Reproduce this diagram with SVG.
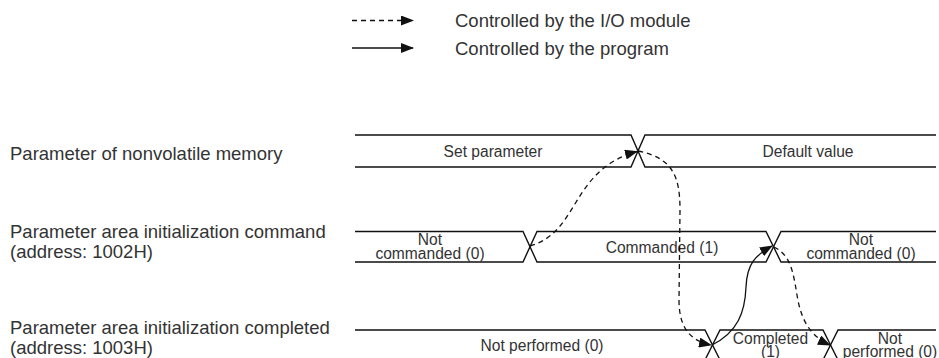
<svg xmlns="http://www.w3.org/2000/svg" width="939" height="358" viewBox="0 0 939 358">
<style>
.big{font-family:"Liberation Sans",Arial,sans-serif;font-size:18.5px;fill:#333}
.sm{font-family:"Liberation Sans",Arial,sans-serif;font-size:15.6px;fill:#333;text-anchor:middle}
.sig{fill:none;stroke:#111;stroke-width:1.4}
.dash{fill:none;stroke:#111;stroke-width:1.3;stroke-dasharray:5,4}
.solid{fill:none;stroke:#111;stroke-width:1.3}
</style>
<defs>
<marker id="ah" markerWidth="13" markerHeight="10" refX="12" refY="5" orient="auto" markerUnits="userSpaceOnUse">
<path d="M0,0 L13,5 L0,10 Z" fill="#111"/>
</marker>
</defs>
<rect width="939" height="358" fill="#fff"/>
<g id="legend">
<line x1="352" y1="20.5" x2="413" y2="20.5" class="dash" marker-end="url(#ah)"/>
<line x1="352" y1="48" x2="413" y2="48" class="solid" marker-end="url(#ah)"/>
<text x="455" y="27" class="big">Controlled by the I/O module</text>
<text x="455" y="54.5" class="big">Controlled by the program</text>
</g>
<g id="label-param">
<text x="10" y="160" class="big">Parameter of nonvolatile memory</text>
</g>
<g id="label-cmd">
<text x="10" y="238" class="big">Parameter area initialization command</text>
<text x="10" y="258" class="big">(address: 1002H)</text>
</g>
<g id="label-done">
<text x="10" y="334" class="big">Parameter area initialization completed</text>
<text x="10" y="354" class="big">(address: 1003H)</text>
</g>
<g id="signal-param">
<path class="sig" d="M355,135 H631 L645,167 H936"/>
<path class="sig" d="M355,167 H631 L645,135 H936"/>
<text x="493" y="157" class="sm">Set parameter</text>
<text x="808" y="157" class="sm">Default value</text>
</g>
<g id="signal-cmd">
<path class="sig" d="M355,231.5 H523 L537,262 H766 L781,231.5 H936"/>
<path class="sig" d="M355,262 H523 L537,231.5 H766 L781,262 H936"/>
<text x="430" y="245" class="sm">Not</text>
<text x="430" y="258.5" class="sm">commanded (0)</text>
<text x="662" y="253" class="sm">Commanded (1)</text>
<text x="861" y="245" class="sm">Not</text>
<text x="861" y="258.5" class="sm">commanded (0)</text>
</g>
<g id="signal-done">
<path class="sig" d="M355,330 H705 L720,360 H823 L838,330 H936"/>
<path class="sig" d="M355,360 H705 L720,330 H823 L838,360 H936"/>
<text x="542" y="351" class="sm">Not performed (0)</text>
<text x="770.5" y="343.5" class="sm">Completed</text>
<text x="770.5" y="357" class="sm">(1)</text>
<text x="890" y="343.5" class="sm">Not</text>
<text x="890" y="357" class="sm">performed (0)</text>
</g>
<g id="connectors">
<path class="dash" d="M530,246 C580,232 570,170 637,151.5" marker-end="url(#ah)"/>
<path class="dash" d="M638,151 C672,158 680,175 680,210 L679,300 C679,330 692,341 711,345" marker-end="url(#ah)"/>
<path class="solid" d="M712,345 C738,332 745,312 746,287 C747,263 756,255 772,246" marker-end="url(#ah)"/>
<path class="dash" d="M774,247 C790,255 793,270 797,295 C801,320 810,336 830,345" marker-end="url(#ah)"/>
</g>
</svg>
